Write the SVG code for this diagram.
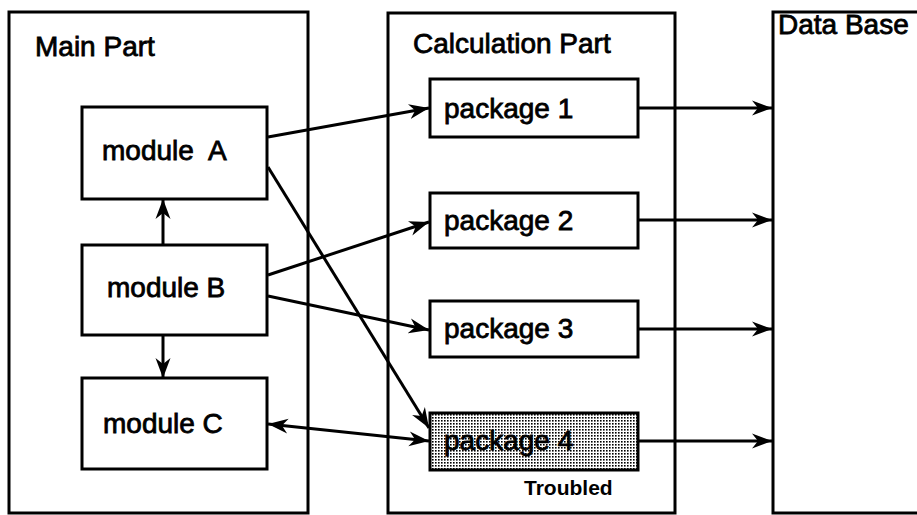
<svg xmlns="http://www.w3.org/2000/svg" width="917" height="515" viewBox="0 0 917 515">
  <style>
    .frame { fill: #fff; stroke: #000; stroke-width: 3; }
    .box { fill: #fff; stroke: #000; stroke-width: 3; }
    .label { font-family: "Liberation Sans", Arial, sans-serif; font-size: 28px; fill: #000; stroke: #000; stroke-width: 0.8; }
    .note { font-family: "Liberation Sans", Arial, sans-serif; font-size: 21px; font-weight: bold; fill: #000; }
    .link { fill: none; stroke: #000; stroke-width: 3; }
  </style>
  <defs>
    <marker id="head" markerUnits="userSpaceOnUse" markerWidth="22" markerHeight="16" refX="20" refY="8" orient="auto-start-reverse">
      <path d="M0,0.5 L20,8 L0,15.5 L6,8 Z" fill="#000"/>
    </marker>
    <pattern id="dots" width="3" height="3" patternUnits="userSpaceOnUse">
      <rect width="3" height="3" fill="#fff"/>
      <rect x="0" y="0" width="1.6" height="1.6" fill="#000"/>
    </pattern>
  </defs>

  <rect width="917" height="515" fill="#fff"/>

  <!-- outer parts -->
  <g id="main-part">
    <rect class="frame" x="9" y="12" width="299" height="501"/>
    <text class="label" x="35" y="56">Main Part</text>
  </g>
  <g id="calculation-part">
    <rect class="frame" x="388" y="13" width="287" height="500"/>
    <text class="label" x="413" y="53">Calculation Part</text>
  </g>
  <g id="data-base">
    <rect class="frame" x="773" y="12" width="160" height="501"/>
    <text class="label" x="778" y="34">Data Base</text>
  </g>

  <!-- modules -->
  <g id="module-a">
    <rect class="box" x="82" y="107" width="185" height="92"/>
    <text class="label" x="102" y="160" word-spacing="8">module A</text>
  </g>
  <g id="module-b">
    <rect class="box" x="82" y="245" width="185" height="90"/>
    <text class="label" x="107" y="297">module B</text>
  </g>
  <g id="module-c">
    <rect class="box" x="82" y="378" width="185" height="91"/>
    <text class="label" x="103" y="433">module C</text>
  </g>

  <!-- packages -->
  <g id="package-1">
    <rect class="box" x="430" y="79" width="208" height="58"/>
    <text class="label" x="444" y="118">package 1</text>
  </g>
  <g id="package-2">
    <rect class="box" x="430" y="193" width="208" height="55"/>
    <text class="label" x="444" y="230">package 2</text>
  </g>
  <g id="package-3">
    <rect class="box" x="430" y="301" width="208" height="56"/>
    <text class="label" x="444" y="338">package 3</text>
  </g>
  <g id="package-4">
    <rect x="430" y="413" width="208" height="57" fill="url(#dots)" stroke="#000" stroke-width="3"/>
    <text class="label" x="444" y="450" stroke-width="2">package 4</text>
    <text class="note" x="524" y="495">Troubled</text>
  </g>

  <!-- connectors -->
  <g id="connectors">
    <line class="link" x1="163" y1="245" x2="163" y2="199" marker-end="url(#head)"/>
    <line class="link" x1="163" y1="335" x2="163" y2="378" marker-end="url(#head)"/>
    <line class="link" x1="268" y1="137" x2="429" y2="108" marker-end="url(#head)"/>
    <line class="link" x1="268" y1="167" x2="429" y2="428" marker-end="url(#head)"/>
    <line class="link" x1="268" y1="275" x2="429" y2="222" marker-end="url(#head)"/>
    <line class="link" x1="268" y1="296" x2="429" y2="330" marker-end="url(#head)"/>
    <line class="link" x1="268" y1="424" x2="429" y2="441" marker-start="url(#head)" marker-end="url(#head)"/>
    <line class="link" x1="638" y1="108" x2="772" y2="108" marker-end="url(#head)"/>
    <line class="link" x1="638" y1="220" x2="772" y2="220" marker-end="url(#head)"/>
    <line class="link" x1="638" y1="329" x2="772" y2="329" marker-end="url(#head)"/>
    <line class="link" x1="638" y1="441" x2="772" y2="441" marker-end="url(#head)"/>
  </g>
</svg>
